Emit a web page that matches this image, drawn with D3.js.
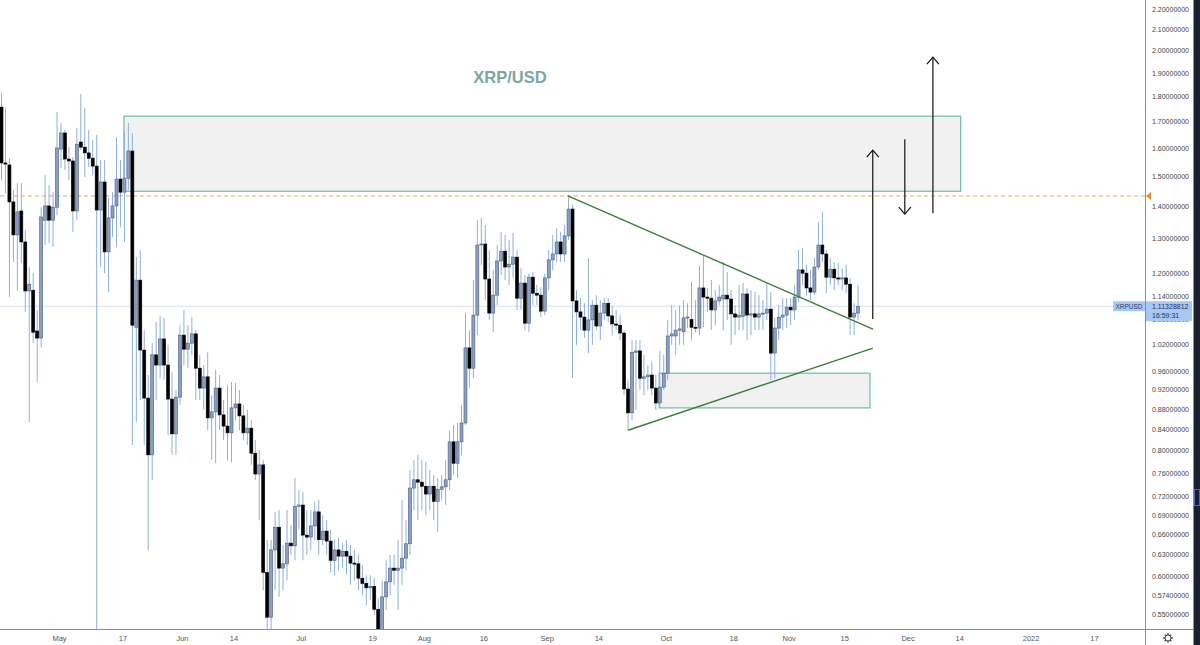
<!DOCTYPE html>
<html>
<head>
<meta charset="utf-8">
<script src="https://cdn.jsdelivr.net/npm/d3@7"></script>
<style>
  body { margin: 0; background: #fff; }
  svg { display: block; font-family: "Liberation Sans", Arial, sans-serif; }
</style>
</head>
<body>
<svg id="chart" width="1200" height="645"></svg>
<script>
// daily candles, first one is 2021-04-16, one value per day
var firstDay = "2021-04-16";

var opens = [
  1.757, 1.546, 1.539, 1.414, 1.311, 1.385, 1.290, 1.153, 1.155, 1.052, // Apr 16
  1.035, 1.356, 1.401, 1.356, 1.397, 1.596, 1.656, 1.560, 1.553, 1.385, // Apr 26
  1.622, 1.603, 1.582, 1.563, 1.535, 1.388, 1.480, 1.261, 1.363, 1.401, // May 6
  1.490, 1.446, 1.493, 1.589, 1.061, 1.182, 1.007, 0.902, 0.792, 0.996, // May 16
  0.973, 1.033, 0.973, 0.900, 0.831, 0.904, 1.042, 1.009, 1.023, 1.045, // May 26
  0.966, 0.923, 0.947, 0.862, 0.874, 0.923, 0.868, 0.846, 0.833, 0.882, // Jun 5
  0.890, 0.866, 0.833, 0.842, 0.795, 0.758, 0.774, 0.605, 0.546, 0.637, // Jun 15
  0.671, 0.611, 0.617, 0.647, 0.643, 0.704, 0.706, 0.659, 0.656, 0.673, // Jun 25
  0.695, 0.652, 0.665, 0.650, 0.622, 0.637, 0.628, 0.635, 0.628, 0.618, // Jul 5
  0.617, 0.597, 0.590, 0.584, 0.586, 0.556, 0.518, 0.572, 0.592, 0.611, // Jul 15
  0.608, 0.611, 0.625, 0.646, 0.734, 0.748, 0.744, 0.737, 0.724, 0.737, // Jul 25
  0.712, 0.732, 0.736, 0.748, 0.816, 0.777, 0.816, 0.852, 1.012, 0.966, // Aug 4
  1.091, 1.281, 1.284, 1.185, 1.096, 1.142, 1.235, 1.263, 1.218, 1.226, // Aug 14
  1.246, 1.134, 1.174, 1.071, 1.190, 1.147, 1.142, 1.101, 1.188, 1.238, // Aug 24
  1.255, 1.290, 1.255, 1.308, 1.391, 1.127, 1.099, 1.086, 1.054, 1.079, // Sep 3
  1.116, 1.064, 1.096, 1.121, 1.089, 1.069, 1.066, 1.047, 0.921, 0.872, // Sep 13
  1.002, 1.005, 0.944, 0.947, 0.951, 0.923, 0.892, 0.925, 0.955, 1.040, // Sep 23
  1.040, 1.054, 1.050, 1.084, 1.080, 1.061, 1.059, 1.161, 1.137, 1.134, // Oct 3
  1.104, 1.127, 1.132, 1.142, 1.132, 1.094, 1.086, 1.088, 1.145, 1.091, // Oct 13
  1.094, 1.086, 1.094, 1.096, 1.106, 1.000, 1.059, 1.086, 1.091, 1.111, // Oct 23
  1.104, 1.137, 1.210, 1.201, 1.161, 1.150, 1.218, 1.281, 1.255, 1.190, // Nov 2
  1.212, 1.188, 1.185, 1.188, 1.171, 1.086, 1.096                       // Nov 12
];

var highs = [
  1.815, 1.753, 1.563, 1.453, 1.476, 1.476, 1.326, 1.218, 1.201, 1.104,
  1.397, 1.504, 1.470, 1.446, 1.737, 1.694, 1.667, 1.603, 1.567, 1.675,
  1.810, 1.753, 1.667, 1.629, 1.648, 1.556, 1.556, 1.427, 1.446, 1.640,
  1.556, 1.659, 1.694, 1.656, 1.246, 1.266, 1.054, 0.951, 1.023, 1.074,
  1.089, 1.084, 1.019, 0.957, 0.919, 1.066, 1.104, 1.066, 1.086, 1.054,
  0.996, 0.973, 1.002, 0.908, 0.962, 0.951, 0.898, 0.929, 0.936, 0.934,
  0.919, 0.888, 0.878, 0.858, 0.819, 0.801, 0.783, 0.652, 0.652, 0.695,
  0.698, 0.644, 0.698, 0.674, 0.751, 0.731, 0.727, 0.698, 0.698, 0.711,
  0.714, 0.690, 0.682, 0.667, 0.652, 0.655, 0.647, 0.652, 0.644, 0.637,
  0.630, 0.615, 0.601, 0.601, 0.597, 0.570, 0.594, 0.622, 0.630, 0.630,
  0.652, 0.714, 0.682, 0.765, 0.783, 0.792, 0.783, 0.779, 0.765, 0.756,
  0.751, 0.756, 0.783, 0.838, 0.848, 0.852, 0.888, 1.096, 1.054, 1.182,
  1.356, 1.363, 1.341, 1.266, 1.210, 1.281, 1.320, 1.311, 1.296, 1.317,
  1.266, 1.215, 1.196, 1.200, 1.204, 1.169, 1.163, 1.200, 1.266, 1.311,
  1.332, 1.320, 1.341, 1.436, 1.404, 1.155, 1.134, 1.121, 1.243, 1.129,
  1.142, 1.129, 1.134, 1.134, 1.114, 1.104, 1.091, 1.054, 0.940, 1.030,
  1.030, 1.030, 0.996, 0.973, 0.980, 0.951, 1.005, 0.996, 1.079, 1.116,
  1.104, 1.116, 1.129, 1.121, 1.177, 1.129, 1.221, 1.252, 1.161, 1.182,
  1.155, 1.169, 1.232, 1.204, 1.155, 1.116, 1.169, 1.174, 1.161, 1.155,
  1.150, 1.142, 1.129, 1.175, 1.150, 1.084, 1.116, 1.134, 1.134, 1.134,
  1.169, 1.266, 1.272, 1.224, 1.210, 1.243, 1.350, 1.382, 1.266, 1.243,
  1.232, 1.229, 1.215, 1.224, 1.188, 1.121, 1.169
];

var lows = [
  1.487, 1.443, 1.137, 1.232, 1.155, 1.229, 1.099, 0.854, 1.023, 0.936,
  1.014, 1.281, 1.287, 1.275, 1.372, 1.528, 1.521, 1.487, 1.320, 1.356,
  1.592, 1.497, 1.532, 1.504, 0.450, 1.218, 1.201, 1.150, 1.305, 1.275,
  1.335, 1.290, 1.453, 0.810, 0.854, 0.898, 0.810, 0.637, 0.748, 0.898,
  0.944, 0.940, 0.829, 0.792, 0.792, 0.888, 0.973, 0.966, 0.996, 0.898,
  0.898, 0.878, 0.838, 0.783, 0.777, 0.838, 0.819, 0.783, 0.779, 0.858,
  0.838, 0.819, 0.810, 0.774, 0.748, 0.682, 0.581, 0.500, 0.506, 0.581,
  0.572, 0.581, 0.594, 0.630, 0.622, 0.667, 0.622, 0.630, 0.637, 0.652,
  0.630, 0.644, 0.630, 0.605, 0.601, 0.608, 0.611, 0.602, 0.588, 0.594,
  0.581, 0.574, 0.561, 0.568, 0.549, 0.484, 0.506, 0.555, 0.574, 0.588,
  0.555, 0.588, 0.608, 0.630, 0.698, 0.682, 0.698, 0.690, 0.698, 0.682,
  0.664, 0.714, 0.706, 0.731, 0.756, 0.751, 0.792, 0.848, 0.923, 0.944,
  1.042, 1.224, 1.129, 1.079, 1.049, 1.116, 1.196, 1.182, 1.169, 1.188,
  1.104, 1.104, 1.054, 1.049, 1.116, 1.116, 1.086, 1.091, 1.155, 1.210,
  1.232, 1.232, 1.232, 1.296, 0.944, 1.019, 1.054, 1.035, 1.000, 1.019,
  1.054, 1.030, 1.079, 1.074, 1.042, 1.054, 1.030, 0.908, 0.838, 0.858,
  0.878, 0.919, 0.908, 0.919, 0.908, 0.878, 0.882, 0.919, 0.940, 1.019,
  0.996, 1.019, 1.019, 1.059, 1.030, 1.049, 1.042, 1.061, 1.099, 1.054,
  1.066, 1.116, 1.054, 1.079, 1.019, 1.042, 1.054, 1.054, 1.030, 1.042,
  1.054, 1.054, 1.054, 1.079, 0.940, 0.944, 1.030, 1.054, 1.059, 1.066,
  1.079, 1.124, 1.169, 1.142, 1.129, 1.142, 1.210, 1.232, 1.147, 1.169,
  1.155, 1.169, 1.155, 1.147, 1.042, 1.042, 1.079
];

var closes = [
  1.546, 1.542, 1.414, 1.311, 1.382, 1.290, 1.153, 1.171, 1.049, 1.035,
  1.366, 1.401, 1.356, 1.397, 1.600, 1.656, 1.560, 1.553, 1.385, 1.614,
  1.603, 1.582, 1.563, 1.535, 1.388, 1.480, 1.261, 1.363, 1.401, 1.490,
  1.446, 1.493, 1.589, 1.066, 1.182, 1.007, 0.902, 0.792, 0.996, 0.973,
  1.033, 0.973, 0.900, 0.831, 0.904, 1.042, 1.009, 1.023, 1.045, 0.966,
  0.923, 0.947, 0.862, 0.874, 0.923, 0.868, 0.846, 0.833, 0.882, 0.890,
  0.866, 0.833, 0.842, 0.795, 0.758, 0.774, 0.605, 0.546, 0.637, 0.671,
  0.611, 0.617, 0.647, 0.643, 0.704, 0.706, 0.659, 0.656, 0.673, 0.695,
  0.652, 0.665, 0.650, 0.622, 0.637, 0.628, 0.635, 0.628, 0.618, 0.617,
  0.597, 0.590, 0.584, 0.586, 0.556, 0.518, 0.572, 0.592, 0.611, 0.608,
  0.611, 0.625, 0.646, 0.734, 0.748, 0.744, 0.737, 0.724, 0.737, 0.712,
  0.732, 0.736, 0.748, 0.816, 0.777, 0.816, 0.852, 1.012, 0.966, 1.091,
  1.281, 1.284, 1.185, 1.096, 1.142, 1.235, 1.263, 1.218, 1.226, 1.246,
  1.134, 1.174, 1.071, 1.190, 1.147, 1.142, 1.101, 1.188, 1.238, 1.255,
  1.290, 1.255, 1.308, 1.391, 1.127, 1.099, 1.086, 1.054, 1.079, 1.116,
  1.064, 1.096, 1.121, 1.089, 1.069, 1.066, 1.047, 0.921, 0.872, 1.002,
  1.005, 0.944, 0.947, 0.951, 0.923, 0.892, 0.925, 0.955, 1.040, 1.045,
  1.054, 1.057, 1.084, 1.086, 1.061, 1.059, 1.161, 1.137, 1.134, 1.104,
  1.127, 1.137, 1.142, 1.132, 1.094, 1.086, 1.091, 1.145, 1.091, 1.094,
  1.086, 1.094, 1.096, 1.106, 1.000, 1.059, 1.086, 1.091, 1.111, 1.104,
  1.137, 1.210, 1.201, 1.161, 1.150, 1.218, 1.281, 1.255, 1.190, 1.212,
  1.188, 1.185, 1.188, 1.171, 1.086, 1.096, 1.11328812
];

var priceTicks = [2.2, 2.1, 2.0, 1.9, 1.8, 1.7, 1.6, 1.5, 1.4, 1.3, 1.2, 1.14, 1.08,
                  1.02, 0.96, 0.92, 0.88, 0.84, 0.80, 0.76, 0.72, 0.69, 0.66, 0.63,
                  0.60, 0.574, 0.55];
var timeTicks = ["2021-05-01", "2021-05-17", "2021-06-01", "2021-06-14", "2021-07-01",
                 "2021-07-19", "2021-08-01", "2021-08-16", "2021-09-01", "2021-09-14",
                 "2021-10-01", "2021-10-18", "2021-11-01", "2021-11-15", "2021-12-01",
                 "2021-12-14", "2022-01-01", "2022-01-17"];
var timeLabels = ["May", "17", "Jun", "14", "Jul", "19", "Aug", "16", "Sep", "14",
                  "Oct", "18", "Nov", "15", "Dec", "14", "2022", "17"];

var symbol = "XRPUSD";
var lastPrice = 1.11328812;
var countdown = "16:59:31";
var markedHigh = 1.4335;

// drawings: [from, to, low, high]
var zones = [
  ["2021-05-17T09:00Z", "2021-12-14T09:00Z", 1.449, 1.721],
  ["2021-09-29T08:00Z", "2021-11-21T12:00Z", 0.882, 0.955]
];
// [from, price, to, price]
var trendLines = [
  ["2021-09-06T08:00Z", 1.4335, "2021-11-22T06:00Z", 1.0565],
  ["2021-09-21T12:00Z", 0.838, "2021-11-22T06:00Z", 1.0116]
];
// [time, start price, end price]
var arrows = [
  ["2021-11-22T05:00Z", 1.081, 1.592],
  ["2021-11-30T07:00Z", 1.632, 1.375],
  ["2021-12-07T09:00Z", 1.378, 1.970]
];

var svg = d3.select("#chart");
var plotW = 1145, plotH = 629;

var x = d3.scaleUtc()
    .domain([new Date("2021-05-01T00:00Z"), new Date("2022-01-17T00:00Z")])
    .range([59, 1094]);
var y = d3.scaleLog().domain([0.55, 2.2]).range([614, 9]);

var t0 = new Date(firstDay + "T12:00Z");
var candles = opens.map(function (o, i) {
    return { t: d3.utcDay.offset(t0, i), o: o, h: highs[i], l: lows[i], c: closes[i] };
});

svg.append("defs").append("clipPath").attr("id", "plot")
    .append("rect").attr("width", plotW).attr("height", plotH);

var plot = svg.append("g").attr("clip-path", "url(#plot)");

// last price line
plot.append("line")
    .attr("x1", 0).attr("x2", plotW)
    .attr("y1", y(lastPrice)).attr("y2", y(lastPrice))
    .attr("stroke", "#d6e2ef").attr("stroke-width", 1);

// zones
plot.selectAll(".zone").data(zones).enter().append("rect")
    .attr("class", "zone")
    .attr("x", function (d) { return x(new Date(d[0])); })
    .attr("width", function (d) { return x(new Date(d[1])) - x(new Date(d[0])); })
    .attr("y", function (d) { return y(d[3]); })
    .attr("height", function (d) { return y(d[2]) - y(d[3]); })
    .attr("fill", "#f1f1f1")
    .attr("stroke", "#6cbcae")
    .attr("stroke-width", 1.2);

// high marker
plot.append("line")
    .attr("x1", 0).attr("x2", plotW)
    .attr("y1", y(markedHigh)).attr("y2", y(markedHigh))
    .attr("stroke", "#f2a65a").attr("stroke-width", 1)
    .attr("stroke-dasharray", "4,3");

// candles
var c = plot.append("g").selectAll("g").data(candles).enter().append("g");
c.append("line")
    .attr("x1", function (d) { return x(d.t); })
    .attr("x2", function (d) { return x(d.t); })
    .attr("y1", function (d) { return y(d.h); })
    .attr("y2", function (d) { return y(d.l); })
    .attr("stroke", "#8db0d8").attr("stroke-width", 1);
c.append("rect")
    .attr("x", function (d) { return x(d.t) - 1.5; })
    .attr("width", 3)
    .attr("y", function (d) { return y(Math.max(d.o, d.c)); })
    .attr("height", function (d) { return Math.max(1, Math.abs(y(d.o) - y(d.c))); })
    .attr("fill", function (d) { return d.c >= d.o ? "#8a9fc3" : "#000"; })
    .attr("stroke", function (d) { return d.c >= d.o ? "#4d5e80" : "#000"; })
    .attr("stroke-width", 0.6);

// trend lines
plot.selectAll(".trend").data(trendLines).enter().append("line")
    .attr("class", "trend")
    .attr("x1", function (d) { return x(new Date(d[0])); })
    .attr("y1", function (d) { return y(d[1]); })
    .attr("x2", function (d) { return x(new Date(d[2])); })
    .attr("y2", function (d) { return y(d[3]); })
    .attr("stroke", "#3f7d3c").attr("stroke-width", 1.4);

// arrows
var a = plot.selectAll(".arrow").data(arrows).enter().append("g").attr("class", "arrow");
a.append("line")
    .attr("x1", function (d) { return x(new Date(d[0])); })
    .attr("x2", function (d) { return x(new Date(d[0])); })
    .attr("y1", function (d) { return y(d[1]); })
    .attr("y2", function (d) { return y(d[2]); })
    .attr("stroke", "#111").attr("stroke-width", 1.2);
a.append("path")
    .attr("d", function (d) {
        var ax = x(new Date(d[0])), ay = y(d[2]);
        var s = d[2] > d[1] ? 1 : -1; // pointing up or down
        return "M" + (ax - 6) + "," + (ay + s * 7) + "L" + ax + "," + ay + "L" + (ax + 6) + "," + (ay + s * 7);
    })
    .attr("fill", "none").attr("stroke", "#111").attr("stroke-width", 1.2);

// title
svg.append("text")
    .attr("x", 510).attr("y", 83)
    .attr("text-anchor", "middle")
    .attr("font-size", 16.5).attr("font-weight", "bold")
    .attr("fill", "#7ba79c")
    .text("XRP/USD");

// axes
var yAxis = svg.append("g")
    .attr("transform", "translate(" + plotW + ",0)")
    .call(d3.axisRight(y).tickValues(priceTicks).tickSize(0).tickPadding(7)
        .tickFormat(function (d) { return d.toFixed(8); }));
yAxis.select(".domain").remove();
yAxis.selectAll("text").attr("font-size", 7).attr("fill", "#444");

var xAxis = svg.append("g")
    .attr("transform", "translate(0," + plotH + ")")
    .call(d3.axisBottom(x).tickValues(timeTicks.map(function (s) { return new Date(s + "T00:00Z"); }))
        .tickSize(0).tickPadding(7)
        .tickFormat(function (d, i) { return timeLabels[i]; }));
xAxis.select(".domain").remove();
xAxis.selectAll("text").attr("font-size", 7.5).attr("fill", "#555");

svg.append("line").attr("x1", 0).attr("x2", 1193).attr("y1", plotH + 0.5).attr("y2", plotH + 0.5)
    .attr("stroke", "#8d8d8d");
svg.append("line").attr("x1", plotW + 0.5).attr("x2", plotW + 0.5).attr("y1", 0).attr("y2", 645)
    .attr("stroke", "#8d8d8d");

// orange marker on the price scale
var hy = y(markedHigh);
svg.append("path")
    .attr("d", "M" + (plotW + 6) + "," + (hy - 4) + "L" + (plotW + 1) + "," + hy + "L" + (plotW + 6) + "," + (hy + 4) + "Z")
    .attr("fill", "#f08a24");

// last price labels
var py = y(lastPrice);
svg.append("rect").attr("x", 1113).attr("y", py - 5).attr("width", 32).attr("height", 10)
    .attr("fill", "#a7c7f5");
svg.append("text").attr("x", 1129).attr("y", py + 2.4).attr("text-anchor", "middle")
    .attr("font-size", 6.5).attr("fill", "#2b4170").text(symbol);
svg.append("rect").attr("x", plotW + 1).attr("y", py - 5).attr("width", 46).attr("height", 20)
    .attr("fill", "#a7c7f5");
svg.append("text").attr("x", 1152).attr("y", py + 2.4)
    .attr("font-size", 7).attr("fill", "#1f3560").text(lastPrice.toFixed(8));
svg.append("text").attr("x", 1152).attr("y", py + 11.5)
    .attr("font-size", 7).attr("fill", "#1f3560").text(countdown);

// settings gear
var gear = svg.append("g").attr("transform", "translate(1168,638)");
gear.append("circle").attr("r", 3).attr("fill", "none").attr("stroke", "#444").attr("stroke-width", 1);
gear.selectAll("line").data(d3.range(8)).enter().append("line")
    .attr("x1", function (k) { return 3 * Math.cos(k * Math.PI / 4); })
    .attr("y1", function (k) { return 3 * Math.sin(k * Math.PI / 4); })
    .attr("x2", function (k) { return 4.8 * Math.cos(k * Math.PI / 4); })
    .attr("y2", function (k) { return 4.8 * Math.sin(k * Math.PI / 4); })
    .attr("stroke", "#444").attr("stroke-width", 1.3);

// dark strip at the right edge
svg.append("rect").attr("x", 1193).attr("y", 0).attr("width", 7).attr("height", 645).attr("fill", "#1b2030");
svg.append("line").attr("x1", 1193.5).attr("x2", 1193.5).attr("y1", 0).attr("y2", 645)
    .attr("stroke", "#6c8fe0");
svg.append("rect").attr("x", 1194.5).attr("y", 489.5).attr("width", 5).attr("height", 16)
    .attr("fill", "none").attr("stroke", "#3f66d0");
</script>
</body>
</html>
